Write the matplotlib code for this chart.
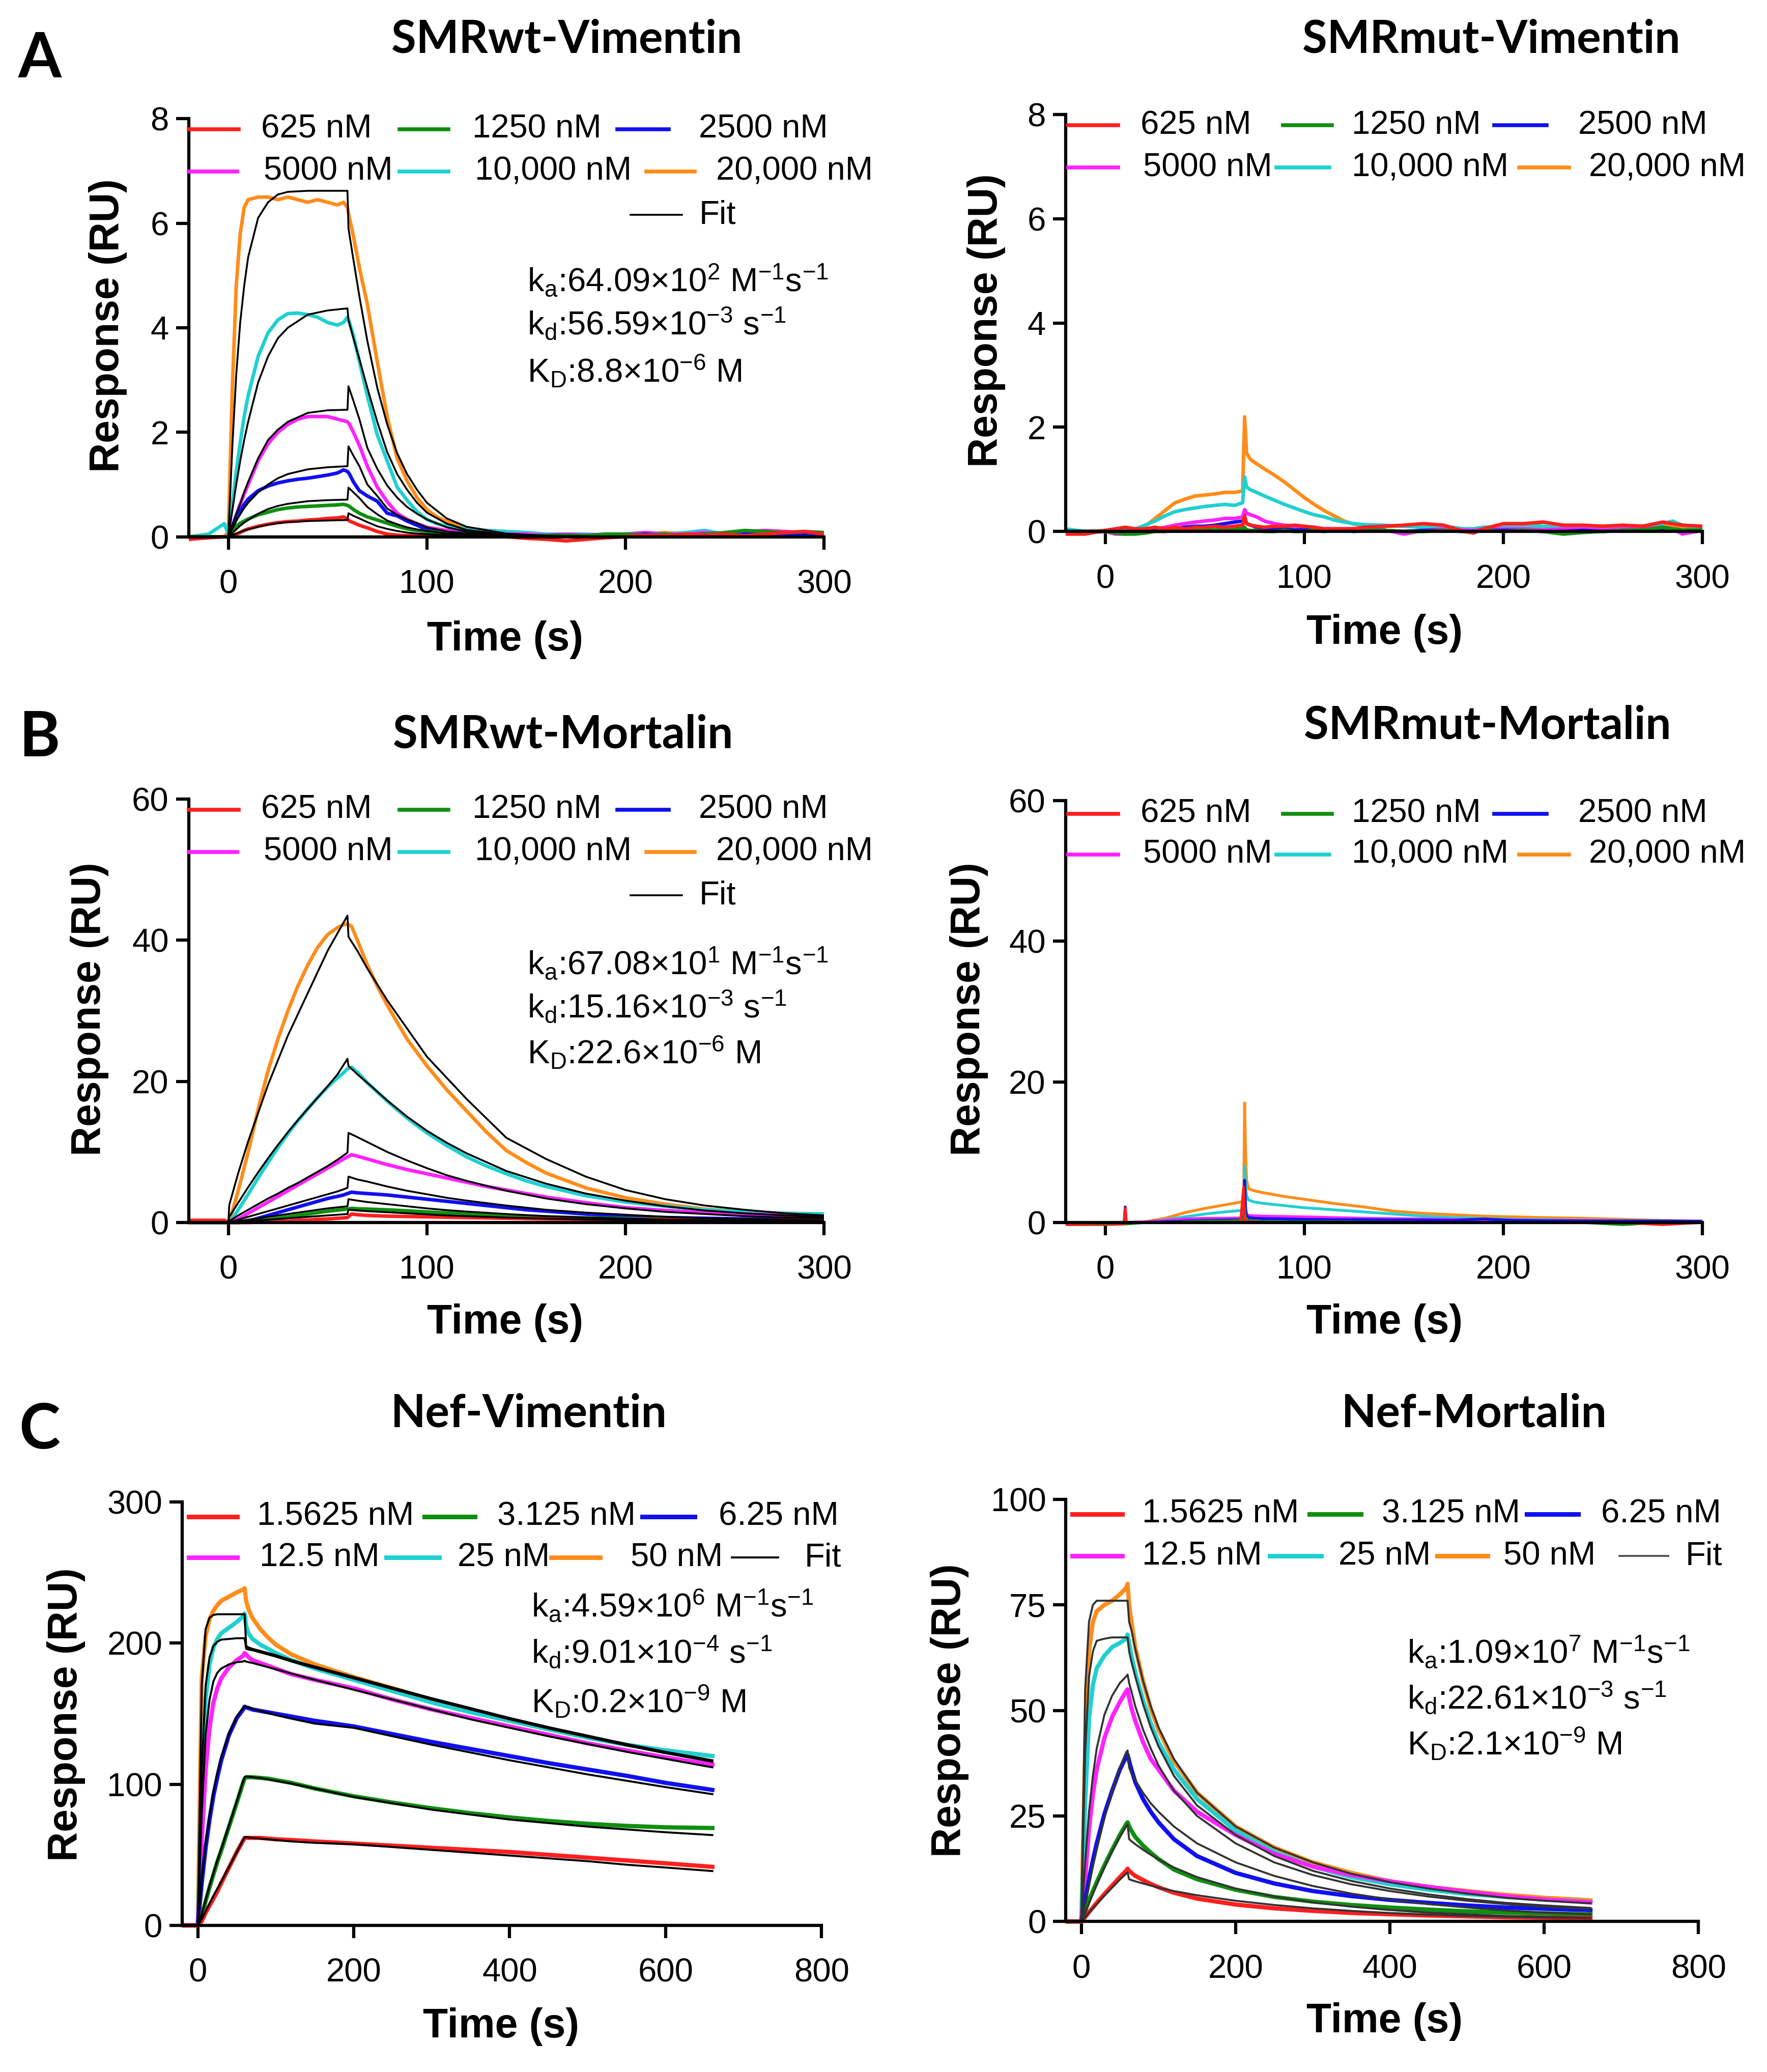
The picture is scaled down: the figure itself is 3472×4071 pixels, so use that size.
import numpy as np
import matplotlib
matplotlib.use("Agg")
import matplotlib.pyplot as plt
from matplotlib.lines import Line2D

plt.rcParams['font.family'] = ['Liberation Sans', 'DejaVu Sans']
plt.rcParams['mathtext.fontset'] = 'custom'
plt.rcParams['mathtext.rm'] = 'Liberation Sans'
plt.rcParams['mathtext.it'] = 'Liberation Sans:italic'
plt.rcParams['mathtext.bf'] = 'Liberation Sans:bold'
plt.rcParams['mathtext.default'] = 'regular'

nan = np.nan

# -----------------------------
# Colores y etiquetas
# -----------------------------
colores = ['#FF1F1F', '#0F8F0F', '#1010F0', '#FF22FF', '#20D0D0', '#FF8C1A']
etiquetas_smr = ['625 nM', '1250 nM', '2500 nM', '5000 nM', '10,000 nM', '20,000 nM']
etiquetas_nef = ['1.5625 nM', '3.125 nM', '6.25 nM', '12.5 nM', '25 nM', '50 nM']

# -----------------------------
# A izquierda: SMRwt-Vimentin
# -----------------------------
tA = [-20, -10, -2, 0, 2, 4, 6, 8, 10, 15,
      20, 25, 30, 35, 40, 45, 50, 55, 58, 60,
      61, 63, 66, 70, 75, 80, 85, 90, 95, 100,
      105, 110, 115, 120, 130, 140, 150, 160, 170, 180,
      190, 200, 210, 220, 230, 240, 250, 260, 270, 280,
      290, 300]
vim_wt_625 = [-0.05, -0.02, 0.0, 0.0, 0.02, 0.05, 0.08, 0.12, 0.15, 0.2,
              0.24, 0.27, 0.29, 0.3, 0.32, 0.33, 0.35, 0.36, 0.38, 0.34,
              0.3, 0.27, 0.22, 0.17, 0.1, 0.05, 0.03, 0.02, 0.02, 0.0,
              0.02, 0.0, 0.02, 0.0, 0.02, 0.0, -0.03, -0.05, -0.08, -0.05,
              -0.02, 0.0, 0.03, 0.02, 0.05, 0.03, 0.05, 0.02, 0.05, 0.08,
              0.1, 0.05]
vim_wt_1250 = [0.0, 0.0, 0.0, 0.0, 0.1, 0.2, 0.26, 0.3, 0.34, 0.42,
               0.47, 0.52, 0.55, 0.57, 0.58, 0.59, 0.6, 0.61, 0.62, 0.6,
               0.58, 0.52, 0.45, 0.38, 0.32, 0.26, 0.2, 0.15, 0.12, 0.1,
               0.08, 0.07, 0.06, 0.05, 0.05, 0.03, 0.02, 0.02, 0.03, 0.02,
               0.05, 0.05, 0.03, 0.05, 0.02, 0.05, 0.08, 0.12, 0.1, 0.08,
               0.1, 0.08]
vim_wt_2500 = [-0.05, 0.0, 0.0, 0.0, 0.15, 0.35, 0.5, 0.62, 0.72, 0.88,
               0.97, 1.03, 1.07, 1.1, 1.12, 1.15, 1.18, 1.22, 1.28, 1.25,
               1.2, 1.05, 0.88, 0.78, 0.68, 0.45, 0.4, 0.3, 0.22, 0.14,
               0.1, 0.08, 0.07, 0.06, 0.05, 0.03, 0.0, 0.02, 0.03, 0.0,
               0.02, 0.03, 0.05, 0.03, 0.02, 0.05, 0.03, 0.05, 0.05, 0.05,
               0.03, 0.05]
vim_wt_5000 = [0.0, 0.0, 0.0, 0.0, 0.2, 0.42, 0.62, 0.82, 1.0, 1.45,
               1.78, 2.0, 2.15, 2.25, 2.3, 2.3, 2.3, 2.25, 2.22, 2.2,
               2.15, 2.0, 1.75, 1.35, 0.95, 0.67, 0.45, 0.33, 0.25, 0.18,
               0.15, 0.12, 0.1, 0.08, 0.08, 0.05, 0.05, 0.03, 0.05, 0.03,
               0.05, 0.05, 0.08, 0.05, 0.05, 0.08, 0.05, 0.1, 0.12, 0.1,
               0.08, 0.05]
vim_wt_10000 = [0.0, 0.05, 0.25, 0.05, 0.6, 1.25, 1.8, 2.3, 2.7, 3.45,
                3.9, 4.15, 4.27, 4.28, 4.25, 4.2, 4.1, 4.05, 4.1, 4.2,
                4.1, 3.85, 3.35, 2.7, 1.95, 1.45, 0.95, 0.7, 0.48, 0.33,
                0.25, 0.2, 0.17, 0.15, 0.12, 0.1, 0.08, 0.05, 0.05, 0.05,
                0.03, 0.05, 0.08, 0.05, 0.08, 0.12, 0.05, 0.05, 0.08, 0.1,
                0.05, 0.05]
vim_wt_20000 = [-0.05, 0.0, 0.0, 0.1, 2.8, 4.8, 5.8, 6.3, 6.45, 6.5,
                6.5, 6.45, 6.5, 6.45, 6.4, 6.45, 6.4, 6.35, 6.4, 6.3,
                6.1, 5.75, 5.15, 4.45, 3.35, 2.3, 1.5, 1.07, 0.75, 0.52,
                0.38, 0.29, 0.22, 0.17, 0.12, 0.1, 0.05, 0.02, 0.05, 0.0,
                0.03, 0.05, 0.05, 0.08, 0.05, 0.1, 0.05, 0.08, 0.05, 0.1,
                0.05, 0.08]

tA_fit = [0, 2, 4, 6, 8, 10, 15, 20, 25, 30,
          40, 50, 60, 60.5, 63, 66, 70, 75, 80, 85,
          90, 95, 100, 110, 120, 140, 160, 200, 250, 300]
vim_fit_625 = [0, 0.03, 0.06, 0.09, 0.12, 0.14, 0.19, 0.23, 0.26, 0.28,
               0.3, 0.31, 0.32, 0.45, 0.4, 0.35, 0.28, 0.2, 0.15, 0.11,
               0.08, 0.06, 0.05, 0.03, 0.02, 0.01, 0, 0, 0, 0]
vim_fit_1250 = [0, 0.07, 0.14, 0.21, 0.27, 0.32, 0.44, 0.53, 0.59, 0.63,
                0.68, 0.7, 0.71, 0.94, 0.85, 0.74, 0.57, 0.43, 0.31, 0.24,
                0.18, 0.14, 0.11, 0.06, 0.04, 0.01, 0, 0, 0, 0]
vim_fit_2500 = [0, 0.15, 0.3, 0.43, 0.55, 0.65, 0.85, 1.0, 1.12, 1.2,
                1.29, 1.33, 1.35, 1.73, 1.55, 1.35, 1.0, 0.78, 0.54, 0.42,
                0.33, 0.26, 0.18, 0.1, 0.06, 0.02, 0, 0, 0, 0]
vim_fit_5000 = [0, 0.22, 0.43, 0.63, 0.85, 1.05, 1.5, 1.85, 2.05, 2.2,
                2.37, 2.42, 2.43, 2.88, 2.6, 2.25, 1.7, 1.3, 0.98, 0.75,
                0.57, 0.44, 0.33, 0.18, 0.1, 0.03, 0.01, 0, 0, 0]
vim_fit_10000 = [0, 0.5, 1.0, 1.45, 1.85, 2.2, 2.95, 3.45, 3.8, 4.0,
                 4.25, 4.33, 4.37, 4.15, 3.8, 3.4, 2.85, 2.2, 1.62, 1.2,
                 0.9, 0.65, 0.46, 0.25, 0.13, 0.04, 0.01, 0, 0, 0]
vim_fit_20000 = [0, 1.7, 3.1, 4.1, 4.8, 5.35, 6.1, 6.4, 6.55, 6.6,
                 6.62, 6.62, 6.62, 5.9, 5.3, 4.6, 3.75, 2.85, 2.15, 1.6,
                 1.2, 0.9, 0.65, 0.35, 0.19, 0.06, 0.02, 0, 0, 0]

# -----------------------------
# A derecha: SMRmut-Vimentin
# -----------------------------
tAm = [-20, -10, 0, 5, 10, 15, 20, 25, 30, 35,
       40, 45, 50, 55, 60, 65, 69, 70, 71, 73,
       76, 80, 85, 90, 95, 100, 105, 110, 115, 120,
       125, 130, 140, 150, 160, 170, 180, 185, 190, 200,
       210, 220, 230, 240, 250, 260, 270, 280, 285, 290,
       300]
vim_mut_625 = [-0.05, -0.05, 0.02, 0.05, 0.08, 0.05, 0.05, 0.08, 0.05, 0.08,
               0.05, 0.08, 0.08, 0.1, 0.08, 0.1, 0.12, 0.3, 0.15, 0.12,
               0.1, 0.08, 0.1, 0.1, 0.12, 0.1, 0.08, 0.05, 0.05, 0.05,
               0.05, 0.08, 0.1, 0.12, 0.15, 0.12, 0.0, -0.03, 0.05, 0.15,
               0.15, 0.18, 0.12, 0.12, 0.1, 0.12, 0.1, 0.18, 0.15, 0.12,
               0.1]
vim_mut_1250 = [0.0, 0.0, 0.0, -0.03, -0.05, -0.05, -0.03, 0.0, 0.0, 0.02,
                0.02, 0.02, 0.03, 0.03, 0.03, 0.05, 0.05, 0.08, 0.03, 0.02,
                0.02, 0.0, 0.0, 0.02, 0.0, 0.0, 0.02, 0.0, 0.02, 0.02,
                0.0, 0.02, 0.02, 0.0, 0.0, 0.02, 0.0, 0.0, 0.02, 0.0,
                0.02, 0.0, -0.05, -0.02, 0.0, 0.02, 0.03, 0.08, 0.05, 0.03,
                0.03]
vim_mut_2500 = [0.0, 0.0, 0.0, 0.0, 0.0, 0.02, 0.02, 0.03, 0.05, 0.05,
                0.08, 0.1, 0.1, 0.12, 0.15, 0.18, 0.2, 0.25, 0.15, 0.12,
                0.08, 0.05, 0.05, 0.05, 0.03, 0.03, 0.02, 0.02, 0.02, 0.02,
                0.02, 0.02, 0.02, 0.0, 0.02, 0.02, 0.0, 0.0, 0.02, 0.02,
                0.02, 0.0, 0.0, 0.02, 0.0, 0.02, 0.02, 0.03, 0.02, 0.0,
                0.02]
vim_mut_5000 = [0.0, -0.03, 0.0, -0.05, -0.05, -0.02, 0.0, 0.05, 0.08, 0.12,
                0.15, 0.18, 0.2, 0.22, 0.25, 0.25, 0.28, 0.42, 0.35, 0.32,
                0.28, 0.2, 0.15, 0.12, 0.1, 0.08, 0.06, 0.05, 0.05, 0.05,
                0.05, 0.05, 0.03, -0.05, 0.02, 0.05, 0.03, 0.02, 0.05, 0.05,
                0.05, 0.03, 0.05, 0.05, 0.03, 0.05, 0.05, 0.08, 0.05, -0.05,
                0.02]
vim_mut_10000 = [0.05, 0.0, 0.0, 0.0, 0.02, 0.05, 0.12, 0.2, 0.3, 0.38,
                 0.42, 0.45, 0.48, 0.5, 0.52, 0.5, 0.55, 1.05, 0.85, 0.8,
                 0.75, 0.68, 0.6, 0.52, 0.45, 0.38, 0.32, 0.28, 0.22, 0.18,
                 0.15, 0.13, 0.12, 0.1, 0.08, 0.1, 0.05, 0.05, 0.08, 0.1,
                 0.12, 0.1, 0.08, 0.1, 0.08, 0.1, 0.1, 0.15, 0.2, 0.12,
                 0.08]
vim_mut_20000 = [-0.02, 0.0, 0.02, 0.0, 0.0, 0.02, 0.1, 0.25, 0.4, 0.55,
                 0.62, 0.68, 0.7, 0.72, 0.75, 0.75, 0.78, 2.2, 1.5, 1.38,
                 1.3, 1.2, 1.08, 0.95, 0.8, 0.65, 0.52, 0.4, 0.3, 0.2,
                 0.14, 0.12, 0.1, 0.1, 0.1, 0.1, 0.05, 0.05, 0.08, 0.1,
                 0.1, 0.08, 0.08, 0.1, 0.08, 0.1, 0.1, 0.12, 0.1, 0.1,
                 0.08]

# -----------------------------
# B izquierda: SMRwt-Mortalin
# -----------------------------
tB = [-20, -10, -2, 0, 2, 5, 10, 15, 20, 25,
      30, 35, 40, 45, 50, 55, 58, 60, 62, 65,
      70, 75, 80, 90, 100, 110, 120, 130, 140, 150,
      160, 180, 200, 220, 240, 260, 280, 300]
mor_wt_625 = [0.3, 0.3, 0.3, 0.0, 0.0, 0.0, 0.0, 0.05, 0.1, 0.15,
              0.2, 0.3, 0.35, 0.45, 0.5, 0.6, 0.65, 0.7, 1.2, 1.1,
              1.0, 0.95, 0.9, 0.85, 0.8, 0.75, 0.7, 0.65, 0.6, 0.55,
              0.5, 0.45, 0.45, 0.4, 0.35, 0.35, 0.3, 0.3]
mor_wt_1250 = [0.0, 0.0, 0.0, 0.0, 0.0, 0.0, 0.05, 0.2, 0.4, 0.6,
               0.8, 1.0, 1.2, 1.4, 1.6, 1.75, 1.85, 1.9, 2.0, 1.95,
               1.9, 1.85, 1.8, 1.65, 1.5, 1.35, 1.2, 1.1, 1.0, 0.9,
               0.8, 0.65, 0.55, 0.45, 0.4, 0.35, 0.3, 0.3]
mor_wt_2500 = [0.0, 0.0, 0.0, 0.0, 0.0, 0.0, 0.2, 0.6, 1.0, 1.4,
               1.8, 2.2, 2.6, 3.0, 3.4, 3.7, 3.9, 4.1, 4.3, 4.2,
               4.1, 4.0, 3.9, 3.6, 3.3, 3.0, 2.7, 2.4, 2.1, 1.8,
               1.6, 1.2, 0.9, 0.7, 0.6, 0.5, 0.4, 0.4]
mor_wt_5000 = [0.1, 0.1, 0.0, 0.0, 0.1, 0.5, 1.3, 2.1, 2.9, 3.7,
               4.5, 5.3, 6.1, 6.9, 7.7, 8.5, 9.0, 9.3, 9.6, 9.4,
               9.0, 8.6, 8.2, 7.5, 6.9, 6.3, 5.7, 5.1, 4.6, 4.1,
               3.6, 2.8, 2.1, 1.7, 1.4, 1.2, 1.0, 0.9]
mor_wt_10000 = [0.2, 0.2, 0.1, 0.0, 0.5, 1.8, 4.0, 6.3, 8.5, 10.6,
                12.6, 14.4, 16.1, 17.7, 19.2, 20.5, 21.2, 21.8, 22.0, 21.3,
                19.8, 18.5, 17.2, 14.8, 12.7, 10.9, 9.3, 8.0, 6.9, 5.9,
                5.1, 3.8, 2.9, 2.3, 1.8, 1.5, 1.3, 1.2]
mor_wt_20000 = [0.3, 0.3, 0.2, 0.0, 1.5, 4.5, 10.0, 16.0, 21.5, 26.0,
                30.0, 33.5, 36.5, 39.0, 40.8, 41.8, 42.2, 42.3, 42.0, 40.0,
                36.5, 33.5, 30.8, 26.0, 22.2, 18.8, 15.8, 12.8, 10.2, 8.5,
                7.0, 4.9, 3.5, 2.6, 1.9, 1.5, 1.3, 1.2]

tB_fit = [0, 0.5, 5, 10, 15, 20, 25, 30, 35, 40,
          45, 50, 55, 60, 60.5, 65, 70, 80, 90, 100,
          110, 120, 140, 160, 180, 200, 220, 240, 260, 280,
          300]
mor_fit_625 = [0, 0.01, 0.1, 0.2, 0.3, 0.4, 0.5, 0.6, 0.7, 0.8,
               0.9, 1.0, 1.1, 1.2, 1.8, 1.7, 1.6, 1.45, 1.3, 1.15,
               1.0, 0.9, 0.7, 0.55, 0.42, 0.33, 0.25, 0.2, 0.15, 0.12,
               0.1]
mor_fit_1250 = [0, 0.02, 0.2, 0.4, 0.6, 0.8, 1.0, 1.2, 1.4, 1.6,
                1.8, 2.0, 2.15, 2.3, 3.3, 3.1, 2.9, 2.6, 2.3, 2.0,
                1.75, 1.55, 1.2, 0.9, 0.7, 0.55, 0.42, 0.33, 0.25, 0.2,
                0.15]
mor_fit_2500 = [0, 0.05, 0.4, 0.8, 1.2, 1.6, 2.0, 2.4, 2.8, 3.2,
                3.6, 4.0, 4.4, 4.9, 6.5, 6.1, 5.8, 5.1, 4.5, 4.0,
                3.5, 3.1, 2.4, 1.8, 1.4, 1.1, 0.8, 0.6, 0.5, 0.4,
                0.3]
mor_fit_5000 = [0, 0.2, 1.0, 1.8, 2.6, 3.4, 4.1, 4.9, 5.6, 6.4,
                7.2, 8.0, 8.9, 9.9, 12.7, 12.1, 11.4, 10.0, 8.8, 7.7,
                6.7, 5.9, 4.5, 3.4, 2.6, 2.0, 1.5, 1.2, 0.9, 0.7,
                0.6]
mor_fit_10000 = [0, 0.8, 2.8, 5.0, 7.1, 9.1, 11.0, 12.8, 14.5, 16.1,
                 17.7, 19.3, 21.0, 23.2, 22.2, 21.0, 19.8, 17.3, 15.0, 13.0,
                 11.3, 9.8, 7.3, 5.5, 4.1, 3.1, 2.3, 1.7, 1.3, 1.0,
                 0.8]
mor_fit_20000 = [0, 2.5, 7.0, 11.5, 15.5, 19.5, 23.0, 26.5, 29.5, 32.5,
                 35.5, 38.5, 41.0, 43.5, 40.5, 38.5, 36.0, 31.5, 27.5, 23.5,
                 20.5, 17.5, 12.0, 9.0, 6.5, 4.6, 3.3, 2.4, 1.8, 1.3,
                 1.0]

# -----------------------------
# B derecha: SMRmut-Mortalin
# -----------------------------
tBm = [-20, 0, 9.5, 10, 10.5, 20, 30, 40, 50, 60,
       68, 69.5, 70, 70.5, 71, 72, 75, 80, 90, 100,
       115, 130, 145, 160, 175, 190, 205, 220, 240, 260,
       280, 300]
mor_mut_625 = [-0.3, -0.2, -0.2, 2.0, 0.0, 0.0, 0.0, 0.0, 0.0, 0.0,
               0.1, 5.0, 1.0, 0.2, 0.1, 0.1, 0.1, 0.0, 0.0, 0.0,
               0.0, 0.0, 0.0, 0.0, 0.0, 0.0, 0.0, 0.0, 0.0, 0.0,
               -0.3, 0.0]
mor_mut_1250 = [-0.3, -0.3, -0.2, -0.2, -0.2, 0.0, 0.0, 0.1, 0.2, 0.2,
                0.3, 0.3, 2.0, 0.5, 0.3, 0.3, 0.2, 0.15, 0.1, 0.1,
                0.1, 0.05, 0.05, 0.0, 0.0, 0.0, 0.0, 0.0, 0.0, -0.3,
                0.0, 0.0]
mor_mut_2500 = [0, 0, 0, 2.2, 0, 0, 0.1, 0.2, 0.3, 0.35,
                0.4, 0.5, 6.0, 2.0, 1.0, 0.7, 0.6, 0.55, 0.5, 0.45,
                0.4, 0.4, 0.35, 0.35, 0.3, 0.5, 0.3, 0.25, 0.2, 0.2,
                0.2, 0.15]
mor_mut_5000 = [0, 0, 0, 0, 0, 0.1, 0.3, 0.5, 0.6, 0.6,
                0.65, 0.7, 3.0, 1.5, 1.1, 1.0, 0.95, 0.9, 0.85, 0.8,
                0.7, 0.6, 0.55, 0.5, 0.45, 0.4, 0.35, 0.3, 0.3, 0.25,
                0.2, 0.2]
mor_mut_10000 = [0, 0, 0, 0, 0, 0.05, 0.4, 0.8, 1.2, 1.5,
                 1.7, 1.8, 8.0, 5.0, 3.8, 3.2, 2.9, 2.7, 2.4, 2.1,
                 1.8, 1.5, 1.2, 0.9, 0.7, 0.55, 0.45, 0.4, 0.35, 0.3,
                 0.25, 0.2]
mor_mut_20000 = [0, 0, 0, 0, 0, 0.1, 0.6, 1.4, 2.0, 2.5,
                 2.9, 3.0, 17.0, 9.5, 6.0, 4.8, 4.5, 4.2, 3.7, 3.3,
                 2.7, 2.2, 1.6, 1.3, 1.1, 0.9, 0.8, 0.7, 0.6, 0.45,
                 0.3, 0.2]

# -----------------------------
# C izquierda: Nef-Vimentin
# -----------------------------
tC = [-20, 0, 5, 10, 15, 20, 25, 30, 40, 50,
      58, 60, 62, 65, 70, 80, 90, 100, 120, 150,
      200, 250, 300, 350, 400, 450, 500, 550, 600, 660]
nef_vim_1_5625 = [0, 0, 3, 9, 14, 19, 24, 30, 41, 52,
                  60, 62, 62, 62, 62, 62, 61.5, 61, 60.5, 59.5,
                  58, 56.5, 55, 53.5, 52, 50, 48, 46, 44, 41.5]
nef_vim_3_125 = [0, 0, 6, 17, 27, 36, 45, 53, 70, 87,
                 101, 104, 105, 105, 105, 104.5, 104, 103, 101, 97,
                 91.5, 87, 83, 79.5, 76.5, 74, 72, 70.5, 69.5, 69]
nef_vim_6_25 = [0, 0, 30, 55, 75, 92, 105, 117, 135, 147,
                153, 155, 154.5, 154, 153, 152, 151, 150, 148, 145,
                141, 135.5, 130, 125, 120, 115, 110.5, 106, 101, 96]
nef_vim_12_5 = [0, 0, 60, 110, 140, 158, 168, 175, 183, 188,
                191, 193, 192, 190, 188, 186, 184, 182, 178, 174,
                168, 160, 153, 147, 141, 135, 129, 124, 119, 114]
nef_vim_25 = [0, 0, 100, 160, 185, 197, 203, 207, 211, 215,
              219, 221, 212, 207, 203, 199, 196, 193, 188, 182,
              174, 166, 158, 151, 145, 139, 133, 128, 124, 120]
nef_vim_50 = [0, 0, 175, 205, 217, 223, 227, 230, 233, 236,
              238, 239, 230, 224, 218, 210, 204, 199, 192, 185,
              176, 168, 160, 152, 145, 139, 133, 128, 124, 120]

nef_vim_fit_1_5625 = [nan, 0, 4.5, 10, 15.5, 21, 26, 31, 41.5, 52,
                      60.5, 62.5, 62.5, 62.3, 62, 61.5, 61, 60.5, 59.5, 58.5,
                      57.5, 55.5, 53.5, 51.5, 49.5, 47.5, 45.5, 43, 41, 38.5]
nef_vim_fit_3_125 = [nan, 0, 8, 18, 28, 37, 46, 54, 71, 88,
                     102, 105, 105.5, 105.5, 105, 104.5, 103.5, 102.5, 100.5, 97,
                     91, 86.5, 82, 78.5, 75, 72.5, 70, 68, 66, 64]
nef_vim_fit_6_25 = [nan, 0, 32, 58, 78, 95, 108, 119, 136, 148,
                    154, 155.5, 155, 154.5, 153.5, 152, 150.5, 149, 146.5, 143,
                    140, 134, 128, 122.5, 117, 112, 107, 102.5, 98, 93]
nef_vim_fit_12_5 = [nan, 0, 80, 135, 160, 173, 179, 182, 185, 186.5,
                    187, 187.5, 187, 186.5, 186, 184.5, 183, 181.5, 178.5, 174,
                    167, 160, 153, 146, 140, 134, 128.5, 123, 118, 112]
nef_vim_fit_25 = [nan, 0, 110, 170, 190, 198, 201, 202.5, 203, 203.5,
                  203.5, 203.5, 196, 195.5, 195, 193.5, 192, 190.5, 187, 182.5,
                  175, 167.5, 160, 153, 146, 139.5, 133.5, 127.5, 122, 116]
nef_vim_fit_50 = [nan, 0, 170, 210, 218, 220, 220.5, 220.5, 220.5, 220.5,
                  220.5, 220.5, 198, 197, 196, 194.5, 193, 191.5, 188, 183.5,
                  176, 168.5, 161, 154, 147, 140.5, 134.5, 128.5, 123, 117]

# -----------------------------
# C derecha: Nef-Mortalin
# -----------------------------
tCm = [-20, 0, 5, 10, 15, 20, 30, 40, 50, 58,
       60, 62, 65, 70, 80, 90, 100, 120, 150, 200,
       250, 300, 350, 400, 450, 500, 550, 600, 660]
nef_mor_1_5625 = [0, 0, 1, 2.2, 3.3, 4.4, 6.5, 8.5, 10.5, 12,
                  12.5, 12, 11.5, 10.8, 9.8, 8.9, 8.1, 6.8, 5.4, 4,
                  3.1, 2.5, 2.0, 1.7, 1.4, 1.2, 1.0, 0.9, 0.8]
nef_mor_3_125 = [0, 0, 2.5, 5, 7.2, 9.3, 13.3, 17, 20.5, 23,
                 23.5, 22.5, 21.5, 20, 18, 16.3, 14.8, 12.3, 10, 7.5,
                 5.8, 4.7, 3.9, 3.3, 2.8, 2.4, 2.1, 1.9, 1.7]
nef_mor_6_25 = [0, 0, 5, 10, 14.5, 18.5, 25.5, 31, 36, 39,
                39.5, 38, 36, 33, 29, 26, 23.5, 19.5, 15.5, 11.5,
                9, 7.2, 6, 5.1, 4.4, 3.8, 3.3, 3.0, 2.7]
nef_mor_12_5 = [0, 0, 10, 22, 30, 36, 43.5, 48.5, 52, 54.5,
                55, 53, 50.5, 47.5, 42.5, 38.5, 36, 31, 26, 20.5,
                16, 13, 11, 9.5, 8.2, 7.0, 6.0, 5.2, 4.5]
nef_mor_25 = [0, 0, 28, 48, 56, 60, 63, 65, 66, 67,
              68, 66, 63, 59, 52.5, 47, 42.5, 36, 29, 21.5,
              16.5, 13, 10.5, 8.8, 7.5, 6.5, 5.8, 5.2, 4.6]
nef_mor_50 = [0, 0, 40, 64, 71, 73.5, 75, 76, 77.5, 79,
              80, 75, 71, 65, 57, 50.5, 45.5, 38, 30.5, 22.5,
              17.5, 14, 11.5, 9.5, 8.2, 7.2, 6.3, 5.6, 5.0]

nef_mor_fit_1_5625 = [nan, 0, 1, 2.1, 3.1, 4.1, 6.1, 8, 9.9, 11.3,
                      11.6, 10, 9.8, 9.5, 9, 8.5, 8, 7.2, 6.2, 4.9,
                      3.9, 3.1, 2.5, 2.0, 1.6, 1.3, 1.1, 0.9, 0.8]
nef_mor_fit_3_125 = [nan, 0, 2, 4.3, 6.5, 8.7, 12.8, 16.6, 20, 22.5,
                     23, 19.5, 19, 18.3, 17, 15.8, 14.7, 12.8, 10.5, 7.8,
                     5.9, 4.5, 3.5, 2.7, 2.1, 1.7, 1.3, 1.1, 0.9]
nef_mor_fit_6_25 = [nan, 0, 4, 8.5, 13, 17, 24.5, 31, 36.5, 40,
                    40.5, 36.5, 35, 33.5, 30.5, 28, 26, 22.5, 18.5, 14,
                    10.8, 8.4, 6.6, 5.2, 4.1, 3.3, 2.6, 2.1, 1.7]
nef_mor_fit_12_5 = [nan, 0, 14, 26, 34.5, 41, 49, 53.5, 56.5, 58,
                    58.5, 56.5, 54.5, 51, 45.5, 41, 37, 31, 25, 18.5,
                    14, 11, 8.8, 7.2, 5.9, 4.9, 4.1, 3.5, 3.0]
nef_mor_fit_25 = [nan, 0, 40, 58, 64, 66.5, 67, 67.3, 67.3, 67.3,
                  67.3, 64, 61.5, 58, 51.5, 46, 41.5, 34.5, 27.5, 20.5,
                  15.5, 12, 9.6, 7.8, 6.4, 5.3, 4.4, 3.8, 3.2]
nef_mor_fit_50 = [nan, 0, 55, 71, 75, 76, 76, 76, 76, 76,
                  76, 71, 69, 64.5, 57, 51, 46, 38.5, 30.5, 22.5,
                  17.5, 14, 11.3, 9.3, 7.8, 6.6, 5.6, 4.9, 4.3]

textos_a = ['k$_a$:64.09×10$^2$ M$^{-1}$s$^{-1}$',
            'k$_d$:56.59×10$^{-3}$ s$^{-1}$',
            'K$_D$:8.8×10$^{-6}$ M']
textos_b = ['k$_a$:67.08×10$^1$ M$^{-1}$s$^{-1}$',
            'k$_d$:15.16×10$^{-3}$ s$^{-1}$',
            'K$_D$:22.6×10$^{-6}$ M']
textos_c1 = ['k$_a$:4.59×10$^6$ M$^{-1}$s$^{-1}$',
             'k$_d$:9.01×10$^{-4}$ s$^{-1}$',
             'K$_D$:0.2×10$^{-9}$ M']
textos_c2 = ['k$_a$:1.09×10$^7$ M$^{-1}$s$^{-1}$',
             'k$_d$:22.61×10$^{-3}$ s$^{-1}$',
             'K$_D$:2.1×10$^{-9}$ M']

# -----------------------------
# Figura
# -----------------------------
W, H = 3472, 4071
S = W / 1340.0   # escala de la vista previa
fig = plt.figure(figsize=(W / 100, H / 100), dpi=100)
fig.patch.set_facecolor('white')

def fx(x):
    return x * S / W

def fy(y):
    return 1 - y * S / H

def make_axes(xlo_px, xhi_px, xlim, y0_px, ytop_px, ytop, ypad, yticks, xticks):
    ppu = (y0_px - ytop_px) / ytop
    bottom_px = y0_px + ypad * ppu
    ax = fig.add_axes([fx(xlo_px), fy(bottom_px), fx(xhi_px) - fx(xlo_px),
                       fy(ytop_px) - fy(bottom_px)])
    ax.set_xlim(xlim)
    ax.set_ylim(-ypad, ytop)
    for s in ['top', 'right']:
        ax.spines[s].set_visible(False)
    ax.spines['left'].set_bounds(0, ytop)
    ax.spines['bottom'].set_position(('data', 0))
    for s in ['left', 'bottom']:
        ax.spines[s].set_linewidth(4.5)
        ax.spines[s].set_zorder(5)
    ax.set_yticks(yticks)
    ax.set_xticks(xticks)
    ax.tick_params(direction='out', length=18, width=4.5, labelsize=47)
    ax.tick_params(axis='x', pad=28)
    ax.tick_params(axis='y', pad=10)
    ax.patch.set_alpha(0)
    return ax

def draw_traces(ax, t, series, lw):
    for vals, c in reversed(list(zip(series, colores))):
        ax.plot(t, vals, color=c, lw=lw, solid_joinstyle='round', zorder=2)

def draw_fits(ax, t, series, color, lw):
    for vals in series:
        ax.plot(t, vals, color=color, lw=lw, zorder=3)

def legend_rows(rows, lw):
    for y, entries in rows:
        for x1, x2, xt, label, color, w in entries:
            fig.add_artist(Line2D([fx(x1), fx(x2)], [fy(y), fy(y)], color=color,
                                  lw=w if w else lw, transform=fig.transFigure))
            fig.text(fx(xt), fy(y), label, fontsize=47, va='center', ha='left')

def kin_text(x, ys, lines):
    for y, s in zip(ys, lines):
        fig.text(fx(x), fy(y + 9), s, fontsize=47, va='baseline', ha='left')

def labels(xl, yl, title, tpos):
    fig.text(fx(xl[0]), fy(xl[1]), 'Time (s)', fontsize=58, fontweight='bold',
             ha='center', va='center')
    fig.text(fx(yl[0]), fy(yl[1]), 'Response (RU)', fontsize=58, fontweight='bold',
             ha='center', va='center', rotation=90)
    fig.text(fx(tpos[0]), fy(tpos[1]), title, fontsize=64, fontweight='bold',
             family=['Lato', 'DejaVu Sans'], ha='center', va='center')

# ---- A izquierda
ax1 = make_axes(143, 625, (-20, 300), 407, 90, 8, 0.3, [0, 2, 4, 6, 8], [0, 100, 200, 300])
draw_traces(ax1, tA, [vim_wt_625, vim_wt_1250, vim_wt_2500, vim_wt_5000,
                      vim_wt_10000, vim_wt_20000], 5)
draw_fits(ax1, tA_fit, [vim_fit_625, vim_fit_1250, vim_fit_2500, vim_fit_5000,
                        vim_fit_10000, vim_fit_20000], 'black', 2.6)
labels((383, 485), (82, 247), 'SMRwt-Vimentin', (430, 30))

# ---- A derecha
ax2 = make_axes(808, 1291, (-20, 300), 403, 87, 8, 0.3, [0, 2, 4, 6, 8], [0, 100, 200, 300])
draw_traces(ax2, tAm, [vim_mut_625, vim_mut_1250, vim_mut_2500, vim_mut_5000,
                       vim_mut_10000, vim_mut_20000], 5)
labels((1050, 480), (748, 243), 'SMRmut-Vimentin', (1131, 30))

# ---- B izquierda
ax3 = make_axes(143, 625, (-20, 300), 927, 606, 60, 2.0, [0, 20, 40, 60], [0, 100, 200, 300])
draw_traces(ax3, tB, [mor_wt_625, mor_wt_1250, mor_wt_2500, mor_wt_5000,
                      mor_wt_10000, mor_wt_20000], 5)
draw_fits(ax3, tB_fit, [mor_fit_625, mor_fit_1250, mor_fit_2500, mor_fit_5000,
                        mor_fit_10000, mor_fit_20000], 'black', 2.6)
labels((383, 1003), (68, 765), 'SMRwt-Mortalin', (427, 557))

# ---- B derecha
ax4 = make_axes(808, 1291, (-20, 300), 927, 607, 60, 2.0, [0, 20, 40, 60], [0, 100, 200, 300])
draw_traces(ax4, tBm, [mor_mut_625, mor_mut_1250, mor_mut_2500, mor_mut_5000,
                       mor_mut_10000, mor_mut_20000], 4)
labels((1050, 1003), (735, 765), 'SMRmut-Mortalin', (1128, 550))

# ---- C izquierda
ax5 = make_axes(138.2, 623, (-20, 800), 1460, 1139, 300, 6, [0, 100, 200, 300],
                [0, 200, 400, 600, 800])
draw_traces(ax5, tC, [nef_vim_1_5625, nef_vim_3_125, nef_vim_6_25, nef_vim_12_5,
                      nef_vim_25, nef_vim_50], 6)
draw_fits(ax5, tC, [nef_vim_fit_1_5625, nef_vim_fit_3_125, nef_vim_fit_6_25,
                    nef_vim_fit_12_5, nef_vim_fit_25, nef_vim_fit_50], 'black', 2.8)
labels((380, 1537), (50, 1300), 'Nef-Vimentin', (401, 1072))

# ---- C derecha
ax6 = make_axes(808.3, 1288, (-20, 800), 1457, 1137, 100, 2, [0, 25, 50, 75, 100],
                [0, 200, 400, 600, 800])
draw_traces(ax6, tCm, [nef_mor_1_5625, nef_mor_3_125, nef_mor_6_25, nef_mor_12_5,
                       nef_mor_25, nef_mor_50], 6)
draw_fits(ax6, tCm, [nef_mor_fit_1_5625, nef_mor_fit_3_125, nef_mor_fit_6_25,
                     nef_mor_fit_12_5, nef_mor_fit_25, nef_mor_fit_50], '#333333', 2.8)
labels((1050, 1533), (720, 1297), 'Nef-Mortalin', (1118, 1072))

# -----------------------------
# Leyendas
# -----------------------------
c = colores
e = etiquetas_smr
n = etiquetas_nef
for dy in (0, 516):
    legend_rows([
        (98 + dy, [(143, 181, 198, e[0], c[0], None), (303, 340, 358, e[1], c[1], None),
                   (468, 507, 530, e[2], c[2], None)]),
        (130 + dy, [(143, 180, 200, e[3], c[3], None), (303, 340, 360, e[4], c[4], None),
                    (490, 527, 543, e[5], c[5], None)]),
        (163 + dy, [(478, 517, 530, 'Fit', 'black', 2.6)]),
    ], 5.5)
for y1, y2 in ((95, 127), (617, 648)):
    legend_rows([
        (y1, [(810, 848, 865, e[0], c[0], None), (973, 1010, 1025, e[1], c[1], None),
              (1133, 1173, 1197, e[2], c[2], None)]),
        (y2, [(810, 848, 867, e[3], c[3], None), (968, 1008, 1025, e[4], c[4], None),
              (1152, 1190, 1205, e[5], c[5], None)]),
    ], 5.5)
legend_rows([
    (1150, [(143, 180, 195, n[0], c[0], None), (322, 360, 377, n[1], c[1], None),
            (487, 527, 545, n[2], c[2], None)]),
    (1181, [(143, 180, 197, n[3], c[3], None), (293, 333, 347, n[4], c[4], None),
            (418, 455, 478, n[5], c[5], None), (555, 590, 610, 'Fit', 'black', 2.8)]),
], 6.5)
legend_rows([
    (1148, [(813, 851, 866, n[0], c[0], None), (993, 1032, 1048, n[1], c[1], None),
            (1158, 1197, 1214, n[2], c[2], None)]),
    (1180, [(813, 851, 866, n[3], c[3], None), (963, 1002, 1015, n[4], c[4], None),
            (1090, 1128, 1140, n[5], c[5], None), (1228, 1265, 1278, 'Fit', '#555555', 2.8)]),
], 6.5)

# -----------------------------
# Constantes cinéticas
# -----------------------------
kin_text(400, [212, 245, 281], textos_a)
kin_text(400, [730, 763, 798], textos_b)
kin_text(403, [1217, 1252, 1290], textos_c1)
kin_text(1067, [1252, 1287, 1322], textos_c2)

# Letras de panel
for letra, y in (('A', 45), ('B', 560), ('C', 1085)):
    fig.text(fx(30), fy(y), letra, fontsize=88, fontweight='bold',
             family=['Lato', 'DejaVu Sans'], ha='center', va='center')

fig.savefig('out.png', dpi=100)
